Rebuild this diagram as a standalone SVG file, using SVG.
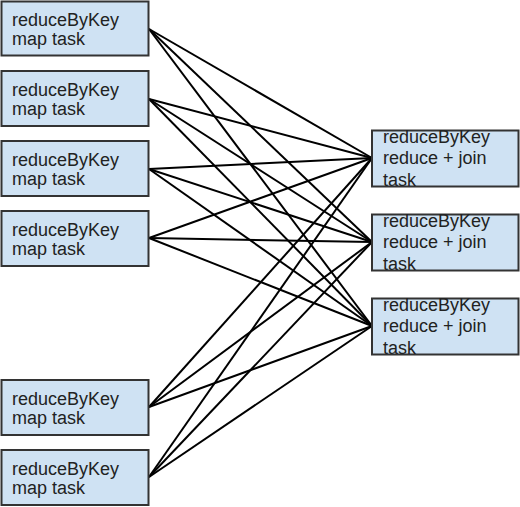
<svg xmlns="http://www.w3.org/2000/svg" width="520" height="507" viewBox="0 0 520 507">
<style>
.box{fill:#cfe2f3;stroke:#333;stroke-width:2}
.t{font-family:"Liberation Sans",Arial,sans-serif;font-size:18px;fill:#222}
.c line{stroke:#000;stroke-width:2}
</style>
<rect width="520" height="507" fill="#fff"/>
<g id="connectors" class="c">
<line x1="149" y1="29" x2="372" y2="158"/><line x1="149" y1="29" x2="372" y2="242"/><line x1="149" y1="29" x2="372" y2="326"/>
<line x1="149" y1="99" x2="372" y2="158"/><line x1="149" y1="99" x2="372" y2="242"/><line x1="149" y1="99" x2="372" y2="326"/>
<line x1="149" y1="169" x2="372" y2="158"/><line x1="149" y1="169" x2="372" y2="242"/><line x1="149" y1="169" x2="372" y2="326"/>
<line x1="149" y1="238" x2="372" y2="158"/><line x1="149" y1="238" x2="372" y2="242"/><line x1="149" y1="238" x2="372" y2="326"/>
<line x1="149" y1="407" x2="372" y2="158"/><line x1="149" y1="407" x2="372" y2="242"/><line x1="149" y1="407" x2="372" y2="326"/>
<line x1="149" y1="477" x2="372" y2="158"/><line x1="149" y1="477" x2="372" y2="242"/><line x1="149" y1="477" x2="372" y2="326"/>
</g>
<g id="map1"><rect class="box" x="1.5" y="1.5" width="147" height="54"/><text class="t" x="12" y="26">reduceByKey</text><text class="t" x="12" y="45">map task</text></g>
<g id="map2"><rect class="box" x="1.5" y="71" width="147" height="55"/><text class="t" x="12" y="96">reduceByKey</text><text class="t" x="12" y="115">map task</text></g>
<g id="map3"><rect class="box" x="1.5" y="141" width="147" height="55"/><text class="t" x="12" y="166">reduceByKey</text><text class="t" x="12" y="185">map task</text></g>
<g id="map4"><rect class="box" x="1.5" y="211" width="147" height="55"/><text class="t" x="12" y="236">reduceByKey</text><text class="t" x="12" y="255">map task</text></g>
<g id="map5"><rect class="box" x="1.5" y="380" width="147" height="55"/><text class="t" x="12" y="405">reduceByKey</text><text class="t" x="12" y="424">map task</text></g>
<g id="map6"><rect class="box" x="1.5" y="450" width="147" height="55"/><text class="t" x="12" y="475">reduceByKey</text><text class="t" x="12" y="494">map task</text></g>
<g id="reduce1"><rect class="box" x="372" y="130.5" width="146.5" height="56"/><text class="t" x="383" y="143">reduceByKey</text><text class="t" x="383" y="164">reduce + join</text><text class="t" x="383" y="185.5">task</text></g>
<g id="reduce2"><rect class="box" x="372" y="214.5" width="146.5" height="56"/><text class="t" x="383" y="227">reduceByKey</text><text class="t" x="383" y="248">reduce + join</text><text class="t" x="383" y="269.5">task</text></g>
<g id="reduce3"><rect class="box" x="372" y="298.5" width="146.5" height="56"/><text class="t" x="383" y="311">reduceByKey</text><text class="t" x="383" y="332">reduce + join</text><text class="t" x="383" y="353.5">task</text></g>
</svg>
